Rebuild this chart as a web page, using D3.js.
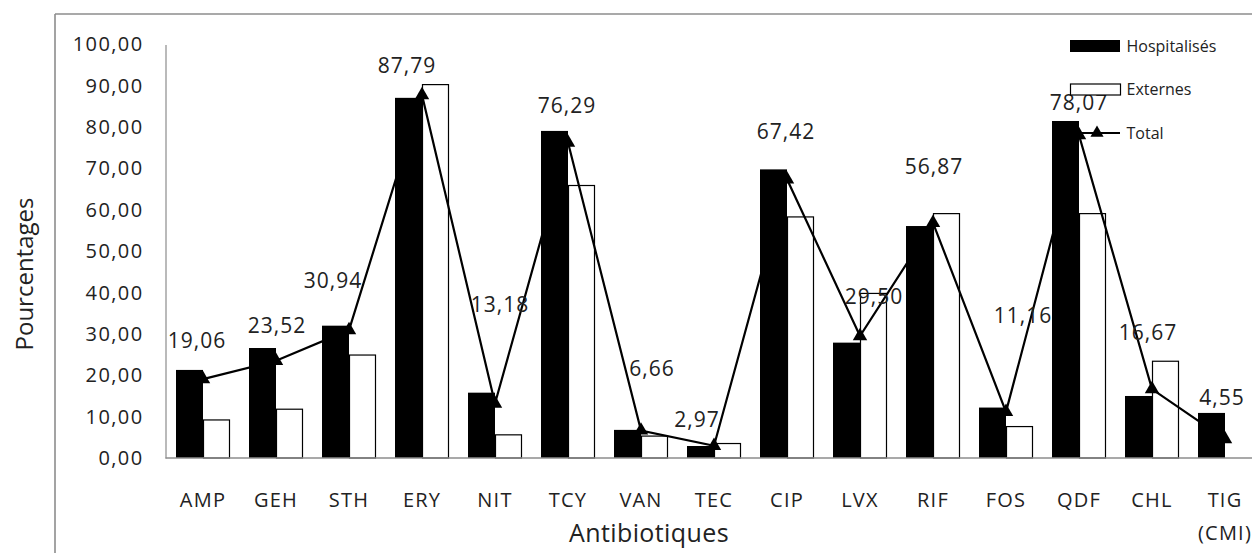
<!DOCTYPE html>
<html>
<head>
<meta charset="utf-8">
<script src="https://cdn.jsdelivr.net/npm/d3@7"></script>
<style>
  html, body { margin: 0; padding: 0; background: #fff; }
  svg { display: block; }
  text { font-family: "Open Sans", sans-serif; fill: #222; }
</style>
</head>
<body>
<svg id="chart" width="1252" height="553"></svg>
<script>
// Antibiotic resistance rates (%) by patient group
const categories = ["AMP", "GEH", "STH", "ERY", "NIT", "TCY", "VAN", "TEC", "CIP", "LVX", "RIF", "FOS", "QDF", "CHL", "TIG\n(CMI)"];
const hospitalises = [21.3, 26.6, 32.0, 87.1, 15.8, 79.1, 6.8, 2.9, 69.8, 27.9, 56.1, 12.2, 81.5, 15.0, 10.9];
const externes = [9.2, 11.8, 24.9, 90.3, 5.6, 65.9, 5.3, 3.5, 58.3, 39.8, 59.1, 7.6, 59.1, 23.4, 0];
const total = [19.06, 23.52, 30.94, 87.79, 13.18, 76.29, 6.66, 2.97, 67.42, 29.50, 56.87, 11.16, 78.07, 16.67, 4.55];
const yTicks = [0, 10, 20, 30, 40, 50, 60, 70, 80, 90, 100];
const seriesNames = ["Hospitalisés", "Externes", "Total"];

// Hand-placed nudges for the total labels (dx, dy from the marker)
const labelNudges = [[-6, -31], [1, -28], [-16, -42], [-15, -22], [5, -92], [-1, -30], [11, -54], [-17, -19],
                     [-1, -40], [14, -32], [1, -49], [17, -89], [0, -25], [-4, -49], [-3, -34]];

const svg = d3.select("#chart");
const frLocale = d3.formatLocale({ decimal: ",", thousands: " ", grouping: [3], currency: ["", " €"] });
const fmt = frLocale.format(".2f");

const plot = { left: 165.5, top: 44.5, bottom: 458 };
const x = d3.scaleBand().domain(categories).range([166.5, 166.5 + 73 * categories.length]).padding(0);
const xs = d3.scaleBand().domain(["h", "e"]).range([0, x.bandwidth()]).paddingInner(0).paddingOuter(0.352);
const y = d3.scaleLinear().domain([0, 100]).range([plot.bottom, plot.top]);

// Outer frame
svg.append("line").attr("x1", 55).attr("x2", 55).attr("y1", 14).attr("y2", 553)
  .attr("stroke", "#8c8c8c").attr("stroke-width", 1.6);
svg.append("line").attr("x1", 55).attr("x2", 1252).attr("y1", 14).attr("y2", 14)
  .attr("stroke", "#8c8c8c").attr("stroke-width", 1.6);

// Y axis
const yAxis = svg.append("g").attr("transform", `translate(${plot.left},0)`)
  .call(d3.axisLeft(y).tickValues(yTicks).tickFormat(fmt).tickSize(0).tickPadding(22));
yAxis.select(".domain").attr("stroke", "#8c8c8c").attr("stroke-width", 1.2);
yAxis.selectAll("text").attr("font-size", 20).attr("letter-spacing", 1.4)
  .style("font-family", "'Open Sans', sans-serif").attr("fill", "#222");

// Bars
const groups = svg.append("g").selectAll("g").data(categories).join("g")
  .attr("transform", d => `translate(${x(d)},0)`);
groups.append("rect")
  .attr("x", xs("h")).attr("width", xs.bandwidth())
  .attr("y", (d, i) => y(hospitalises[i])).attr("height", (d, i) => y(0) - y(hospitalises[i]))
  .attr("fill", "#000");
groups.filter((d, i) => externes[i] > 0).append("rect")
  .attr("x", (d) => xs("e") + 0.5).attr("width", xs.bandwidth() - 1)
  .attr("y", (d) => y(externes[categories.indexOf(d)])).attr("height", d => y(0) - y(externes[categories.indexOf(d)]))
  .attr("fill", "#fff").attr("stroke", "#000").attr("stroke-width", 1.2);

// X axis baseline
svg.append("line").attr("x1", plot.left).attr("x2", 1252).attr("y1", plot.bottom).attr("y2", plot.bottom)
  .attr("stroke", "#8c8c8c").attr("stroke-width", 1.4);

// Category labels
const cx = d => x(d) + x.bandwidth() / 2;
svg.append("g").selectAll("text").data(categories).join("text")
  .attr("x", d => cx(d)).attr("y", 507).attr("text-anchor", "middle")
  .attr("font-size", 20).attr("letter-spacing", 1.2)
  .each(function (d) {
    const lines = d.split("\n");
    d3.select(this).selectAll("tspan").data(lines).join("tspan")
      .attr("x", cx(d)).attr("dy", (l, j) => j === 0 ? 0 : 33).text(l => l);
  });

// Total line with triangle markers
const line = d3.line().x((d, i) => cx(categories[i])).y(d => y(d));
svg.append("path").datum(total).attr("d", line)
  .attr("fill", "none").attr("stroke", "#000").attr("stroke-width", 2.2);
const tri = d3.symbol(d3.symbolTriangle, 90);
svg.append("g").selectAll("path").data(total).join("path")
  .attr("d", tri).attr("transform", (d, i) => `translate(${cx(categories[i])},${y(d)})`)
  .attr("fill", "#000");

// Total value labels
svg.append("g").selectAll("text").data(total).join("text")
  .attr("x", (d, i) => cx(categories[i]) + labelNudges[i][0])
  .attr("y", (d, i) => y(d) + labelNudges[i][1])
  .attr("text-anchor", "middle").attr("font-size", 21).attr("letter-spacing", 1)
  .text(d => fmt(d));

// Axis titles
svg.append("text").attr("transform", "translate(33,274) rotate(-90)")
  .attr("text-anchor", "middle").attr("font-size", 24).attr("fill", "#000").text("Pourcentages");
svg.append("text").attr("x", 649).attr("y", 542).attr("text-anchor", "middle")
  .attr("font-size", 25).attr("letter-spacing", 0.4).attr("fill", "#000").text("Antibiotiques");

// Legend
const legend = svg.append("g");
const lx = 1070, ltx = 1126.5;
legend.append("rect").attr("x", lx).attr("y", 40).attr("width", 50).attr("height", 12).attr("fill", "#000");
legend.append("rect").attr("x", lx + 0.5).attr("y", 84).attr("width", 50).attr("height", 11)
  .attr("fill", "#fff").attr("stroke", "#000").attr("stroke-width", 1.2);
legend.append("line").attr("x1", lx).attr("x2", lx + 50).attr("y1", 133).attr("y2", 133)
  .attr("stroke", "#000").attr("stroke-width", 2.2);
legend.append("path").attr("d", d3.symbol(d3.symbolTriangle, 75)).attr("transform", `translate(${lx + 27},133)`)
  .attr("fill", "#000");
legend.selectAll("text.lg").data(seriesNames).join("text").attr("class", "lg")
  .attr("x", ltx).attr("y", (d, i) => [52, 95, 138.5][i])
  .attr("font-size", 16).attr("fill", "#111").text(d => d);
</script>
</body>
</html>
